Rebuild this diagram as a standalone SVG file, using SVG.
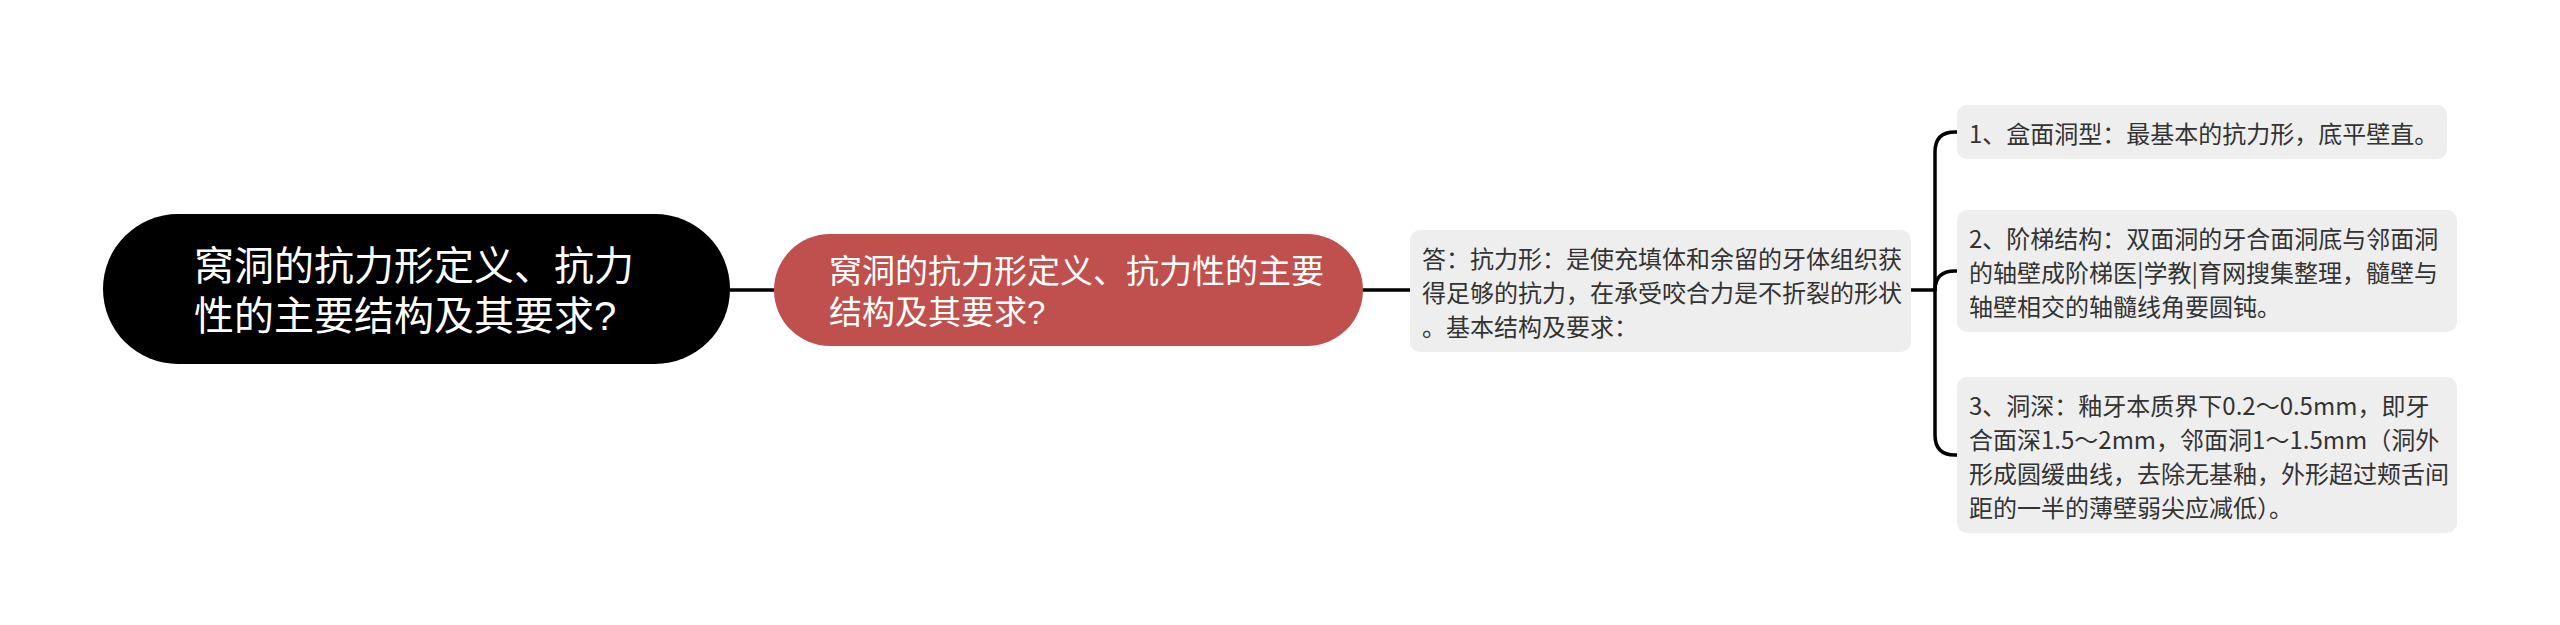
<svg xmlns="http://www.w3.org/2000/svg" width="2560" height="625" viewBox="0 0 2560 625">
<style>
text{font-family:"Noto Sans CJK SC","Noto Sans",sans-serif}
.leaf{fill:#333;font-size:24px;dominant-baseline:central}
.root{fill:#fff;font-size:40px;font-family:"Liberation Sans","Noto Sans CJK SC",sans-serif}
.main{fill:#fff;font-size:33px;font-family:"Liberation Sans","Noto Sans CJK SC",sans-serif}
.box{fill:#eeeeee}
.conn{fill:none;stroke:#000;stroke-width:3.5;stroke-linecap:round}
</style>
<rect width="2560" height="625" fill="#fff"/>
<g id="connectors">
<path class="conn" d="M730 290H774"/>
<path class="conn" d="M1363 290H1410"/>
<path class="conn" d="M1911 290H1935"/>
<path class="conn" d="M1957 132H1955Q1935 132 1935 152V435Q1935 455 1955 455H1957"/>
<path class="conn" d="M1935 290Q1935 271 1955 271H1957"/>
</g>
<g id="root">
<rect x="103" y="214" width="627" height="150" rx="75" fill="#000"/>
<text class="root" x="194" y="280">窝洞的抗力形定义、抗力</text>
<text class="root" x="194" y="330">性的主要结构及其要求?</text>
</g>
<g id="main">
<rect x="774" y="234" width="589" height="112" rx="56" fill="#c0504d"/>
<text class="main" x="829" y="283">窝洞的抗力形定义、抗力性的主要</text>
<text class="main" x="829" y="324">结构及其要求?</text>
</g>
<g id="answer">
<rect class="box" x="1410" y="230" width="501" height="122" rx="10"/>
<text class="leaf"><tspan x="1422" y="257">答：抗力形：是使充填体和余留的牙体组织获</tspan><tspan x="1422" y="291">得足够的抗力，在承受咬合力是不折裂的形状</tspan><tspan x="1422" y="325">。基本结构及要求：</tspan></text>
</g>
<g id="item1">
<rect class="box" x="1957" y="105" width="490" height="54" rx="10"/>
<text class="leaf"><tspan x="1969" y="132">1、盒面洞型：最基本的抗力形，底平壁直。</tspan></text>
</g>
<g id="item2">
<rect class="box" x="1957" y="210" width="500" height="122" rx="10"/>
<text class="leaf"><tspan x="1969" y="237">2、阶梯结构：双面洞的牙合面洞底与邻面洞</tspan><tspan x="1969" y="271">的轴壁成阶梯医|学教|育网搜集整理，髓壁与</tspan><tspan x="1969" y="305">轴壁相交的轴髓线角要圆钝。</tspan></text>
</g>
<g id="item3">
<rect class="box" x="1957" y="377" width="500" height="156" rx="10"/>
<text class="leaf"><tspan x="1969" y="404">3、洞深：釉牙本质界下0.2～0.5mm，即牙</tspan><tspan x="1969" y="438">合面深1.5～2mm，邻面洞1～1.5mm（洞外</tspan><tspan x="1969" y="472">形成圆缓曲线，去除无基釉，外形超过颊舌间</tspan><tspan x="1969" y="506">距的一半的薄壁弱尖应减低）。</tspan></text>
</g>
</svg>
